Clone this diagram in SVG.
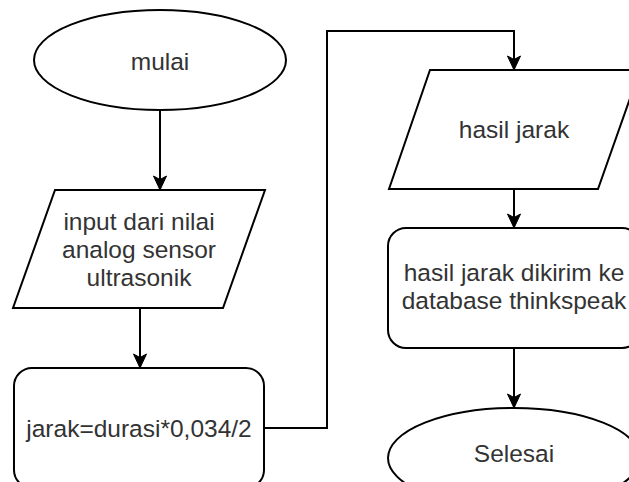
<svg xmlns="http://www.w3.org/2000/svg" width="629" height="482" viewBox="0 0 629 482">
<defs>
<marker id="arr" markerUnits="userSpaceOnUse" markerWidth="16" markerHeight="16" viewBox="0 0 16 16" refX="15" refY="8" orient="auto">
<path d="M1,1.5 L15,8 L1,14.5 L4.5,8 Z" fill="#000" stroke="#000" stroke-width="1"/>
</marker>
<style>
.s{fill:#fff;stroke:#000;stroke-width:2}
.t{font-family:"Liberation Sans",Arial,sans-serif;font-size:24.5px;fill:#333;text-anchor:middle}
.c{fill:none;stroke:#000;stroke-width:2;marker-end:url(#arr)}
</style>
</defs>
<rect width="629" height="482" fill="#fff"/>
<g id="connectors">
<path class="c" d="M160,110 V190"/>
<path class="c" d="M140,308 V368"/>
<path class="c" d="M265,428 H327 V31 H514 V70"/>
<path class="c" d="M514,189 V228"/>
<path class="c" d="M514,348 V408"/>
</g>
<g id="mulai">
<ellipse class="s" cx="160" cy="60" rx="126" ry="50"/>
<text class="t" x="160" y="70">mulai</text>
</g>
<g id="input">
<polygon class="s" points="55,190 265,190 223,308 13,308"/>
<text class="t" x="139" y="230">input dari nilai</text>
<text class="t" x="139" y="258">analog sensor</text>
<text class="t" x="139" y="286">ultrasonik</text>
</g>
<g id="jarak">
<rect class="s" x="14" y="368" width="250" height="120" rx="18"/>
<text class="t" x="139" y="437">jarak=durasi*0,034/2</text>
</g>
<g id="hasil">
<polygon class="s" points="430,70 640,70 598,189 389,189"/>
<text class="t" x="514" y="138">hasil jarak</text>
</g>
<g id="kirim">
<rect class="s" x="388" y="228" width="252" height="120" rx="18"/>
<text class="t" x="514" y="281">hasil jarak dikirim ke</text>
<text class="t" x="514" y="309">database thinkspeak</text>
</g>
<g id="selesai">
<ellipse class="s" cx="514" cy="458" rx="126" ry="50"/>
<text class="t" x="514" y="462">Selesai</text>
</g>
</svg>
